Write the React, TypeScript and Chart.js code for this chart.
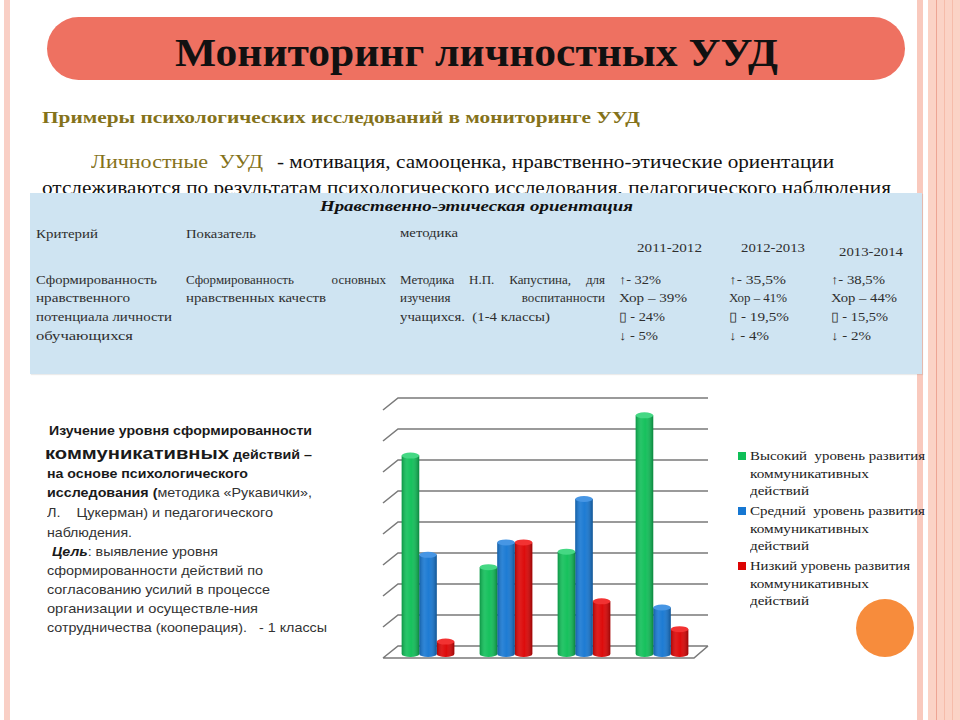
import React, { useEffect, useLayoutEffect, useRef } from "react";
import { Chart, registerables } from "chart.js";

Chart.register(...registerables);

// ---------- chart data ----------
const categories = ["1", "2", "3", "4"];
const highLevel = [64, 28, 33, 77];
const midLevel = [32, 36, 50, 15];
const lowLevel = [4, 36, 17, 8];
const seriesNames = [
  "Высокий  уровень развития коммуникативных действий",
  "Средний  уровень развития коммуникативных действий",
  "Низкий уровень развития коммуникативных действий",
];
const legendLines = [
  ["Высокий  уровень развития", "коммуникативных", "действий"],
  ["Средний  уровень развития", "коммуникативных", "действий"],
  ["Низкий уровень развития", "коммуникативных", "действий"],
];
const gridValues = [0, 10, 20, 30, 40, 50, 60, 70, 80];

// ---------- table data ----------
const tableTitle = "Нравственно-этическая ориентация";
const tableHeaders = ["Критерий", "Показатель", "методика"];
const years = ["2011-2012", "2012-2013", "2013-2014"];
const criterionLines = ["Сформированность", "нравственного", "потенциала личности", "обучающихся"];
const indicatorLines = ["Сформированность основных", "нравственных качеств"];
const methodLines = ["Методика Н.П. Капустина, для", "изучения воспитанности", "учащихся.  (1-4 классы)"];
const results2011 = ["↑- 32%", "Хор – 39%", "▯ - 24%", "↓ - 5%"];
const results2012 = ["↑- 35,5%", "Хор – 41%", "▯ - 19,5%", "↓ - 4%"];
const results2013 = ["↑- 38,5%", "Хор – 44%", "▯ - 15,5%", "↓ - 2%"];

// ---------- styles / layout ----------
const barColors = ["#0fbf58", "#1677d2", "#dc0404"];
const capColors = ["#45d884", "#4796e4", "#f23232"];
const SERIF = '"Liberation Serif", "Times New Roman", serif';
const SANS = '"Liberation Sans", Arial, sans-serif';
const TABLE_COLOR = "#2e2e2e";
const criterionW = [121, 94, 136, 97];
const resultCols = [
  { x: 619, lines: results2011, w: [42, 68, 46, 39] },
  { x: 729, lines: results2012, w: [57, 58, 60, 40] },
  { x: 831, lines: results2013, w: [54, 66, 57, 40] },
];
const rowY = [280, 298, 317, 336];

type TxtProps = {
  x: number;
  y: number;
  w?: number;
  size: number;
  family?: string;
  weight?: any;
  italic?: boolean;
  color?: string;
  lh?: number;
  children: React.ReactNode;
};

function Txt({ x, y, w, size, family = SERIF, weight = "normal", italic = false, color = "#222", lh, children }: TxtProps) {
  const ref = useRef<HTMLDivElement>(null);
  useLayoutEffect(() => {
    const fit = () => {
      const el = ref.current;
      if (!el || !w) return;
      el.style.transform = "none";
      const nat = el.getBoundingClientRect().width;
      if (nat > 0) el.style.transform = `scaleX(${w / nat})`;
    };
    fit();
    if ((document as any).fonts && (document as any).fonts.ready) (document as any).fonts.ready.then(fit);
  }, [w]);
  const lineH = lh ?? Math.round(size * 1.2);
  return (
    <div
      ref={ref}
      style={{
        position: "absolute",
        left: x,
        top: y - lineH / 2,
        whiteSpace: "pre",
        fontSize: size,
        lineHeight: lineH + "px",
        fontFamily: family,
        fontWeight: weight,
        fontStyle: italic ? "italic" : "normal",
        color,
        transformOrigin: "0 50%",
      }}
    >
      {children}
    </div>
  );
}

function Just({ x, y, w, size, children }: { x: number; y: number; w: number; size: number; children: React.ReactNode }) {
  const lineH = 18;
  return (
    <div
      style={{
        position: "absolute",
        left: x,
        top: y - lineH / 2,
        width: w,
        fontSize: size,
        lineHeight: lineH + "px",
        fontFamily: SERIF,
        color: TABLE_COLOR,
        textAlign: "justify",
        textAlignLast: "justify",
        whiteSpace: "nowrap",
      } as any}
    >
      {children}
    </div>
  );
}

const depthPlugin = {
  id: "depth3d",
  beforeDatasetsDraw(chart: any) {
    const { ctx, scales } = chart;
    const x = scales.x;
    const y = scales.y;
    ctx.save();
    ctx.strokeStyle = "#7a7a7a";
    ctx.lineWidth = 1.6;
    for (const v of gridValues) {
      const py = y.getPixelForValue(v);
      ctx.beginPath();
      ctx.moveTo(x.left - 6, py + 4);
      ctx.lineTo(x.left + 9, py - 8);
      ctx.lineTo(x.right + 7, py - 8);
      if (v === 0) {
        ctx.moveTo(x.left - 6, py + 4);
        ctx.lineTo(x.right - 7, py + 4);
        ctx.lineTo(x.right + 7, py - 8);
      }
      ctx.stroke();
    }
    ctx.restore();
  },
  afterDatasetsDraw(chart: any) {
    const { ctx } = chart;
    ctx.save();
    chart.data.datasets.forEach((ds: any, di: number) => {
      const meta = chart.getDatasetMeta(di);
      meta.data.forEach((bar: any) => {
        const { x, y, base, width } = bar.getProps(["x", "y", "base", "width"], true);
        const l = x - width / 2;
        const shade = () => {
          const g = ctx.createLinearGradient(l, 0, l + width, 0);
          g.addColorStop(0, "rgba(0,0,0,0.22)");
          g.addColorStop(0.3, "rgba(255,255,255,0.10)");
          g.addColorStop(0.55, "rgba(255,255,255,0.03)");
          g.addColorStop(1, "rgba(0,0,0,0.30)");
          return g;
        };
        ctx.beginPath();
        ctx.ellipse(x, base, width / 2, 3, 0, 0, Math.PI);
        ctx.fillStyle = barColors[di];
        ctx.fill();
        ctx.fillStyle = shade();
        ctx.fill();
        ctx.fillStyle = shade();
        ctx.fillRect(l, y, width, base - y);
        ctx.beginPath();
        ctx.ellipse(x, y, width / 2, 3, 0, 0, Math.PI * 2);
        ctx.fillStyle = capColors[di];
        ctx.fill();
      });
    });
    ctx.restore();
  },
};

function BarChart() {
  const ref = useRef<HTMLCanvasElement>(null);
  useEffect(() => {
    if (!ref.current) return;
    const chart = new Chart(ref.current, {
      type: "bar",
      data: {
        labels: categories,
        datasets: [
          { label: seriesNames[0], data: highLevel, backgroundColor: barColors[0] },
          { label: seriesNames[1], data: midLevel, backgroundColor: barColors[1] },
          { label: seriesNames[2], data: lowLevel, backgroundColor: barColors[2] },
        ],
      },
      options: {
        responsive: false,
        animation: false,
        events: [],
        layout: { padding: { left: 19, right: 29, top: 21, bottom: 21 } },
        datasets: { bar: { categoryPercentage: 0.675, barPercentage: 1.0, borderWidth: 0 } } as any,
        scales: {
          x: { display: false },
          y: { display: false, min: 0, max: 80 },
        },
        plugins: { legend: { display: false }, tooltip: { enabled: false } },
      },
      plugins: [depthPlugin],
    } as any);
    return () => chart.destroy();
  }, []);
  return <canvas ref={ref} width={360} height={290} style={{ position: "absolute", left: 370, top: 385, width: 360, height: 290 }} />;
}

export default function App() {
  return (
    <div style={{ position: "fixed", left: 0, top: 0, width: 960, height: 720, background: "#fff", overflow: "hidden" }}>
      {/* side stripes */}
      <div style={{ position: "absolute", left: 4, top: 0, width: 6, height: 720, background: "#f9cfc5" }} />
      <div style={{ position: "absolute", left: 917, top: 0, width: 6, height: 720, background: "#f9c9bd" }} />
      <div style={{ position: "absolute", left: 928, top: 0, width: 32, height: 720, background: "#fbd3c6" }} />
      <div style={{ position: "absolute", left: 936, top: 0, width: 1, height: 720, background: "#eea594" }} />
      <div style={{ position: "absolute", left: 944, top: 0, width: 1, height: 720, background: "#f6bcaa" }} />
      <div style={{ position: "absolute", left: 952, top: 0, width: 1, height: 720, background: "#f6bcaa" }} />

      {/* title pill */}
      <div style={{ position: "absolute", left: 47, top: 17, width: 858, height: 63, borderRadius: 32, background: "#ee7161" }} />
      <Txt x={175} y={53} w={603} size={40} weight="bold" color="#111">Мониторинг личностных УУД</Txt>

      <Txt x={42} y={118} w={598} size={17} weight="bold" color="#84721a">Примеры психологических исследований в мониторинге УУД</Txt>
      <Txt x={91} y={162} w={172} size={18} color="#84721a">Личностные  УУД</Txt>
      <Txt x={277} y={162} w={557} size={18} color="#111">- мотивация, самооценка, нравственно-этические ориентации</Txt>
      <Txt x={42} y={188} w={849} size={18} color="#111">отслеживаются по результатам психологического исследования, педагогического наблюдения</Txt>

      {/* table */}
      <div style={{ position: "absolute", left: 30, top: 193, width: 892, height: 181, background: "#cfe4f2", boxShadow: "1px 1px 1px rgba(0,0,0,0.08)" }} />
      <Txt x={320} y={206} w={313} size={15} weight="bold" italic color="#111">{tableTitle}</Txt>
      <Txt x={36} y={234} w={62} size={13} color={TABLE_COLOR}>{tableHeaders[0]}</Txt>
      <Txt x={186} y={234} w={70} size={13} color={TABLE_COLOR}>{tableHeaders[1]}</Txt>
      <Txt x={400} y={233} w={58} size={13} color={TABLE_COLOR}>{tableHeaders[2]}</Txt>
      <Txt x={637} y={248} w={65} size={13} color={TABLE_COLOR}>{years[0]}</Txt>
      <Txt x={741} y={248} w={64} size={13} color={TABLE_COLOR}>{years[1]}</Txt>
      <Txt x={839} y={252} w={64} size={13} color={TABLE_COLOR}>{years[2]}</Txt>
      {criterionLines.map((t, i) => (
        <Txt key={"c" + i} x={36} y={rowY[i]} w={criterionW[i]} size={13} color={TABLE_COLOR}>{t}</Txt>
      ))}
      <Just x={186} y={rowY[0]} w={200} size={13}>{indicatorLines[0]}</Just>
      <Txt x={186} y={rowY[1]} w={140} size={13} color={TABLE_COLOR}>{indicatorLines[1]}</Txt>
      <Just x={400} y={rowY[0]} w={205} size={13}>{methodLines[0]}</Just>
      <Just x={400} y={rowY[1]} w={205} size={13}>{methodLines[1]}</Just>
      <Txt x={400} y={rowY[2]} w={150} size={13} color={TABLE_COLOR}>{methodLines[2]}</Txt>
      {resultCols.map((c, ci) =>
        c.lines.map((t, i) => (
          <Txt key={"r" + ci + "-" + i} x={c.x} y={rowY[i]} w={c.w[i]} size={13} color={TABLE_COLOR}>{t}</Txt>
        ))
      )}

      {/* left description */}
      <Txt x={49} y={431} w={263} size={13} family={SANS} weight="bold" color="#1a1a1a">Изучение уровня сформированности</Txt>
      <Txt x={45} y={454} w={184} size={17} family={SANS} weight="bold" color="#1a1a1a">коммуникативных</Txt>
      <Txt x={233} y={455} w={79} size={13} family={SANS} weight="bold" color="#1a1a1a">действий –</Txt>
      <Txt x={47} y={474} w={201} size={13} family={SANS} weight="bold" color="#1a1a1a">на основе психологического</Txt>
      <Txt x={47} y={493} w={265} size={13} family={SANS} color="#333">
        <span style={{ fontWeight: "bold", color: "#1a1a1a" }}>исследования (</span>методика «Рукавички»,
      </Txt>
      <Txt x={47} y={513} w={226} size={13} family={SANS} color="#333">{"Л.    Цукерман) и педагогического"}</Txt>
      <Txt x={47} y={533} w={85} size={13} family={SANS} color="#333">наблюдения.</Txt>
      <Txt x={52} y={552} w={166} size={13} family={SANS} color="#333">
        <span style={{ fontWeight: "bold", fontStyle: "italic", color: "#1a1a1a" }}>Цель</span>: выявление уровня
      </Txt>
      <Txt x={47} y={571} w={216} size={13} family={SANS} color="#333">сформированности действий по</Txt>
      <Txt x={47} y={590} w={223} size={13} family={SANS} color="#333">согласованию усилий в процессе</Txt>
      <Txt x={47} y={609} w={211} size={13} family={SANS} color="#333">организации и осуществле-ния</Txt>
      <Txt x={47} y={628} w={280} size={13} family={SANS} color="#333">{"сотрудничества (кооперация).   - 1 классы"}</Txt>

      <BarChart />

      {/* legend */}
      {legendLines.map((lines, i) => (
        <React.Fragment key={"lg" + i}>
          <div style={{ position: "absolute", left: 738, top: 452 + i * 55, width: 8, height: 8, background: barColors[i] }} />
          {lines.map((t, j) => (
            <Txt key={j} x={750} y={456 + i * 55 + j * 17.5} w={j === 0 ? (i === 2 ? 160 : 175) : j === 1 ? 119 : 59} size={13.5} color="#222">{t}</Txt>
          ))}
        </React.Fragment>
      ))}

      {/* orange circle */}
      <div style={{ position: "absolute", left: 856, top: 599, width: 58, height: 58, borderRadius: "50%", background: "#f78c3c", boxShadow: "0 0 0 2px #fff" }} />
    </div>
  );
}
